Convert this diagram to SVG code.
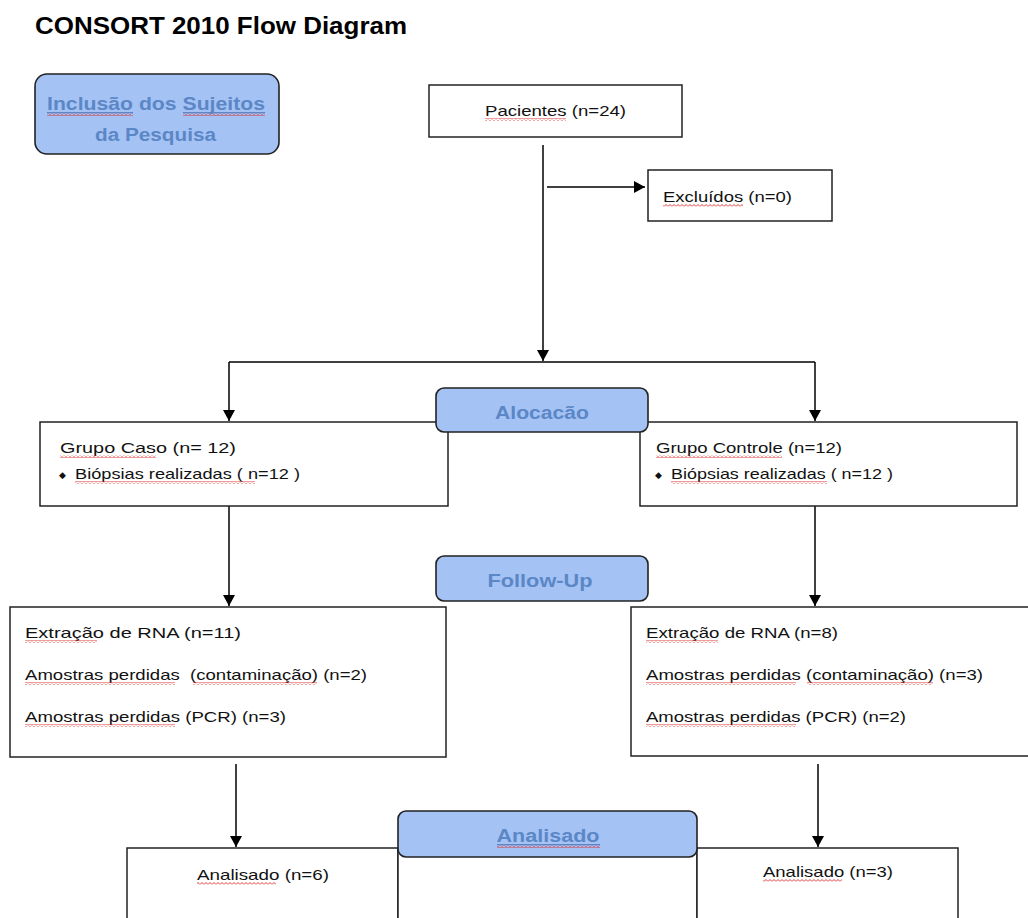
<svg xmlns="http://www.w3.org/2000/svg" width="1028" height="918" viewBox="0 0 1028 918">
<style>
.box{fill:#fff;stroke:#222;stroke-width:1.5}
.hdr{fill:#a4c2f4;stroke:#222;stroke-width:1.6}
.t{font-family:"Liberation Sans",Arial,sans-serif;font-size:15px;fill:#111}
.b{font-family:"DejaVu Sans",sans-serif;font-size:9px;fill:#111}
.h{font-family:"Liberation Sans",Arial,sans-serif;font-size:18px;font-weight:bold;fill:#5b87c6}
.c{stroke:#000;stroke-width:1.5;fill:none}
.sq{fill:url(#sq)}
</style>
<defs>
<marker id="ah" markerUnits="userSpaceOnUse" markerWidth="12" markerHeight="12" refX="11" refY="6" orient="auto">
<path d="M0,0 L11,6 L0,12 z" fill="#000"/>
</marker>
<pattern id="sq" patternUnits="userSpaceOnUse" width="4" height="3">
<path d="M0,2.5 L2,0.5 L4,2.5" fill="none" stroke="#e02020" stroke-width="0.9"/>
</pattern>
</defs>
<rect width="1028" height="918" fill="#fff"/>
<text x="35" y="34" font-family="'Liberation Sans',Arial,sans-serif" font-size="23" font-weight="bold" fill="#000" textLength="372" lengthAdjust="spacingAndGlyphs">CONSORT 2010 Flow Diagram</text>

<g id="inclusao">
<rect class="hdr" x="35" y="74" width="244" height="80" rx="12"/>
<text class="h" x="47" y="110" textLength="218" lengthAdjust="spacingAndGlyphs">Inclusão dos Sujeitos</text>
<text class="h" x="95" y="141" textLength="121" lengthAdjust="spacingAndGlyphs">da Pesquisa</text>
<rect x="47" y="112" width="86" height="1.3" fill="#5b87c6"/>
<rect x="183" y="112" width="82" height="1.3" fill="#5b87c6"/>
<rect class="sq" x="47" y="113" width="86" height="3"/>
<rect class="sq" x="183" y="113" width="82" height="3"/>
</g>

<g id="connectors">
<path class="c" d="M543,145 V361" marker-end="url(#ah)"/>
<path class="c" d="M547,187 H645" marker-end="url(#ah)"/>
<path class="c" d="M229,362 H815"/>
<path class="c" d="M229,362 V421" marker-end="url(#ah)"/>
<path class="c" d="M815,362 V421" marker-end="url(#ah)"/>
<path class="c" d="M229,506 V606" marker-end="url(#ah)"/>
<path class="c" d="M815,506 V606" marker-end="url(#ah)"/>
<path class="c" d="M236,764 V847" marker-end="url(#ah)"/>
<path class="c" d="M818,764 V847" marker-end="url(#ah)"/>
</g>

<g id="pacientes">
<rect class="box" x="429" y="85" width="253" height="52"/>
<text class="t" x="485" y="116" textLength="141" lengthAdjust="spacingAndGlyphs">Pacientes (n=24)</text>
<rect class="sq" x="485" y="118" width="81" height="3"/>
</g>

<g id="excluidos">
<rect class="box" x="648" y="170" width="184" height="51"/>
<text class="t" x="663" y="202" textLength="129" lengthAdjust="spacingAndGlyphs">Excluídos (n=0)</text>
<rect class="sq" x="663" y="204" width="80" height="3"/>
</g>

<g id="grupo-caso">
<rect class="box" x="40" y="422" width="408" height="84"/>
<text class="t" x="60" y="453" textLength="176" lengthAdjust="spacingAndGlyphs">Grupo Caso (n= 12)</text>
<text class="b" x="59" y="478">◆</text>
<text class="t" x="75" y="479" textLength="225" lengthAdjust="spacingAndGlyphs">Biópsias realizadas ( n=12 )</text>
<rect class="sq" x="60" y="455" width="96" height="3"/>
<rect class="sq" x="75" y="481" width="180" height="3"/>
</g>

<g id="grupo-controle">
<rect class="box" x="640" y="422" width="377" height="84"/>
<text class="t" x="656" y="453" textLength="186" lengthAdjust="spacingAndGlyphs">Grupo Controle (n=12)</text>
<text class="b" x="655" y="478">◆</text>
<text class="t" x="671" y="479" textLength="222" lengthAdjust="spacingAndGlyphs">Biópsias realizadas ( n=12 )</text>
<rect class="sq" x="656" y="455" width="126" height="3"/>
<rect class="sq" x="671" y="481" width="156" height="3"/>
</g>

<g id="alocacao">
<rect class="hdr" x="436" y="388" width="212" height="44" rx="8"/>
<text class="h" x="542" y="419" text-anchor="middle" textLength="94" lengthAdjust="spacingAndGlyphs">Alocacão</text>
</g>

<g id="extracao-caso">
<rect class="box" x="10" y="607" width="436" height="150"/>
<text class="t" x="25" y="638" textLength="216" lengthAdjust="spacingAndGlyphs">Extração de RNA (n=11)</text>
<text class="t" x="25" y="680" textLength="342" lengthAdjust="spacingAndGlyphs" xml:space="preserve">Amostras perdidas  (contaminação) (n=2)</text>
<text class="t" x="25" y="722" textLength="261" lengthAdjust="spacingAndGlyphs">Amostras perdidas (PCR) (n=3)</text>
<rect class="sq" x="25" y="640" width="72" height="3"/>
<rect class="sq" x="25" y="682" width="150" height="3"/>
<rect class="sq" x="193" y="682" width="124" height="3"/>
<rect class="sq" x="25" y="724" width="150" height="3"/>
</g>

<g id="extracao-controle">
<rect class="box" x="631" y="607" width="410" height="149"/>
<text class="t" x="646" y="638" textLength="192" lengthAdjust="spacingAndGlyphs">Extração de RNA (n=8)</text>
<text class="t" x="646" y="680" textLength="337" lengthAdjust="spacingAndGlyphs">Amostras perdidas (contaminação) (n=3)</text>
<text class="t" x="646" y="722" textLength="260" lengthAdjust="spacingAndGlyphs">Amostras perdidas (PCR) (n=2)</text>
<rect class="sq" x="646" y="640" width="72" height="3"/>
<rect class="sq" x="646" y="682" width="150" height="3"/>
<rect class="sq" x="807" y="682" width="126" height="3"/>
<rect class="sq" x="646" y="724" width="150" height="3"/>
</g>

<g id="followup">
<rect class="hdr" x="436" y="556" width="212" height="45" rx="8"/>
<text class="h" x="540" y="587" text-anchor="middle" textLength="105" lengthAdjust="spacingAndGlyphs">Follow-Up</text>
</g>

<g id="analisado-caso">
<rect class="box" x="127" y="848" width="271" height="90"/>
<text class="t" x="197" y="880" textLength="132" lengthAdjust="spacingAndGlyphs">Analisado (n=6)</text>
<rect class="sq" x="197" y="882" width="79" height="3"/>
</g>

<g id="analisado-meio">
<rect class="box" x="398" y="850" width="299" height="88"/>
</g>

<g id="analisado-controle">
<rect class="box" x="697" y="848" width="261" height="90"/>
<text class="t" x="763" y="877" textLength="130" lengthAdjust="spacingAndGlyphs">Analisado (n=3)</text>
<rect class="sq" x="763" y="879" width="79" height="3"/>
</g>

<g id="analisado">
<rect class="hdr" x="398" y="811" width="299" height="46" rx="8"/>
<text class="h" x="548" y="842" text-anchor="middle" textLength="103" lengthAdjust="spacingAndGlyphs">Analisado</text>
<rect x="497" y="844" width="103" height="1.3" fill="#5b87c6"/>
<rect class="sq" x="497" y="845" width="103" height="3"/>
</g>
</svg>
